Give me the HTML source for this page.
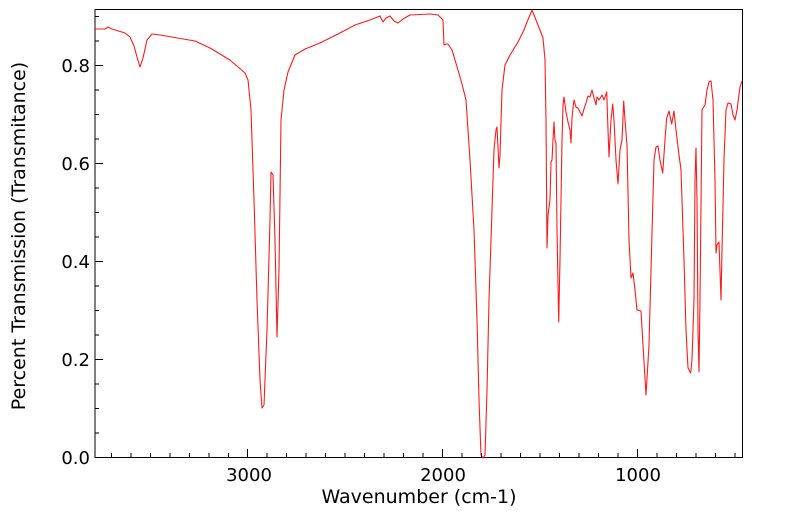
<!DOCTYPE html>
<html><head><meta charset="utf-8"><style>
body{margin:0;background:#fff;}
svg{display:block;font-family:"DejaVu Sans","Liberation Sans",sans-serif;}
</style></head><body>
<svg width="799" height="516" viewBox="0 0 799 516">
<rect x="95" y="9.5" width="647.5" height="448" fill="none" stroke="#000" stroke-width="1"/>
<g stroke="#000" stroke-width="1">
<line x1="95" y1="457.5" x2="103" y2="457.5"/><line x1="95" y1="433" x2="99" y2="433"/>
<line x1="95" y1="408.5" x2="99" y2="408.5"/><line x1="95" y1="384" x2="99" y2="384"/>
<line x1="95" y1="359.5" x2="103" y2="359.5"/><line x1="95" y1="335" x2="99" y2="335"/>
<line x1="95" y1="310.5" x2="99" y2="310.5"/><line x1="95" y1="286" x2="99" y2="286"/>
<line x1="95" y1="261.5" x2="103" y2="261.5"/><line x1="95" y1="237" x2="99" y2="237"/>
<line x1="95" y1="212.5" x2="99" y2="212.5"/><line x1="95" y1="188" x2="99" y2="188"/>
<line x1="95" y1="163.5" x2="103" y2="163.5"/><line x1="95" y1="139" x2="99" y2="139"/>
<line x1="95" y1="114.5" x2="99" y2="114.5"/><line x1="95" y1="90" x2="99" y2="90"/>
<line x1="95" y1="65.5" x2="103" y2="65.5"/><line x1="95" y1="41" x2="99" y2="41"/>
<line x1="95" y1="16.5" x2="99" y2="16.5"/>
</g>
<g font-size="18" fill="#000" text-anchor="end">
<text x="90" y="464">0.0</text><text x="90" y="366">0.2</text>
<text x="90" y="268">0.4</text><text x="90" y="170">0.6</text><text x="90" y="72">0.8</text>
</g>
<g font-size="18" fill="#000" text-anchor="middle">
<text x="249" y="481">3000</text><text x="443" y="481">2000</text><text x="638" y="481">1000</text>
</g>
<g font-size="19" fill="#000" text-anchor="middle">
<text x="419" y="503">Wavenumber (cm-1)</text>
<text transform="translate(25,236) rotate(-90)">Percent Transmission (Transmitance)</text>
</g>
<polyline fill="none" stroke="#ff1a1a" stroke-width="1.1" stroke-linejoin="round" points="
95,29 105,29 108,27 112,29 125,33 130,37 134,46 137,57 140,67 143,58 147,40 152,34 160,35 195,41 210,48 230,60 245,73 248,80 251,110 254,200 257,300 260,380 262,408 264,405 267,330 270,220 271,172 273,175 275,240 277,337 279,270 281,120 284,90 288,72 295,55 305,49 320,43 340,33 355,25 370,20 380,16 383,22 386,18 390,16 394,21 398,23 403,19 410,15 430,14 438,15 443,20 444,45 446,44 448,44 452,50 458,70 462,84 466,100 470,160 474,230 477,320 479,400 481,455 483,458 485,455 487,390 489,300 491,240 492,210 494,150 496,130 497,127 499,168 500,155 502,90 505,65 510,55 518,42 524,30 527,22 530,15 532,10 534,15 538,25 543,38 545,60 546,120 547,248 548,215 550,200 551,162 552,160 553,140 554,122 555,140 556,143 557,230 558.7,322 560,260 562,140 563,105 564,97 566,112 568,122 570,130 571,143 572,118 573,108 574,100 576,107 578,108 580,112 582,116 584,109 586,103 588,96 590,97 592,90 594,98 596,105 597,97 599,100 602,95 604,100 606.7,92 608,130 609,157 611,120 612.7,104 614,120 616,160 618,184 620,150 622,140 623.7,101 625,120 627,145 629,240 631,278 633,273 635,290 637,310 641,311 643,345 646,395 649,345 651,270 654,160 656,147 658,146 660,160 662.7,173 665,140 666.7,118 669,111 671.7,124 674,111 676,130 679,155 681,170 684,260 686,330 688,368 690.7,373 692,360 694,300 695,180 696,148 697,200 698,330 699,372 700,300 702,110 703,108 705,105 707,90 709,82 711,81 713,100 715,180 716,253 717,245 719,242 721,300 722,250 724,160 726,110 728,103 731,104 733,115 735,120 737,110 740,87 742,81"/>
<g stroke="#000" stroke-width="1">
<line x1="111.5" y1="457" x2="111.5" y2="453"/><line x1="131" y1="457" x2="131" y2="453"/>
<line x1="150.5" y1="457" x2="150.5" y2="453"/><line x1="170" y1="457" x2="170" y2="453"/>
<line x1="189.5" y1="457" x2="189.5" y2="453"/><line x1="209" y1="457" x2="209" y2="453"/>
<line x1="228.5" y1="457" x2="228.5" y2="453"/><line x1="247.5" y1="457" x2="247.5" y2="449"/>
<line x1="267" y1="457" x2="267" y2="453"/><line x1="286.5" y1="457" x2="286.5" y2="453"/>
<line x1="306" y1="457" x2="306" y2="453"/><line x1="325.5" y1="457" x2="325.5" y2="453"/>
<line x1="345" y1="457" x2="345" y2="453"/><line x1="364.5" y1="457" x2="364.5" y2="453"/>
<line x1="384" y1="457" x2="384" y2="453"/><line x1="403.5" y1="457" x2="403.5" y2="453"/>
<line x1="423" y1="457" x2="423" y2="453"/><line x1="442.5" y1="457" x2="442.5" y2="449"/>
<line x1="462" y1="457" x2="462" y2="453"/><line x1="481.5" y1="457" x2="481.5" y2="453"/>
<line x1="501" y1="457" x2="501" y2="453"/><line x1="520.5" y1="457" x2="520.5" y2="453"/>
<line x1="540" y1="457" x2="540" y2="453"/><line x1="559.5" y1="457" x2="559.5" y2="453"/>
<line x1="579" y1="457" x2="579" y2="453"/><line x1="598.5" y1="457" x2="598.5" y2="453"/>
<line x1="618" y1="457" x2="618" y2="453"/><line x1="637.5" y1="457" x2="637.5" y2="449"/>
<line x1="657" y1="457" x2="657" y2="453"/><line x1="676.5" y1="457" x2="676.5" y2="453"/>
<line x1="696" y1="457" x2="696" y2="453"/><line x1="715.5" y1="457" x2="715.5" y2="453"/>
<line x1="735" y1="457" x2="735" y2="453"/>
</g>
</svg>
</body></html>
